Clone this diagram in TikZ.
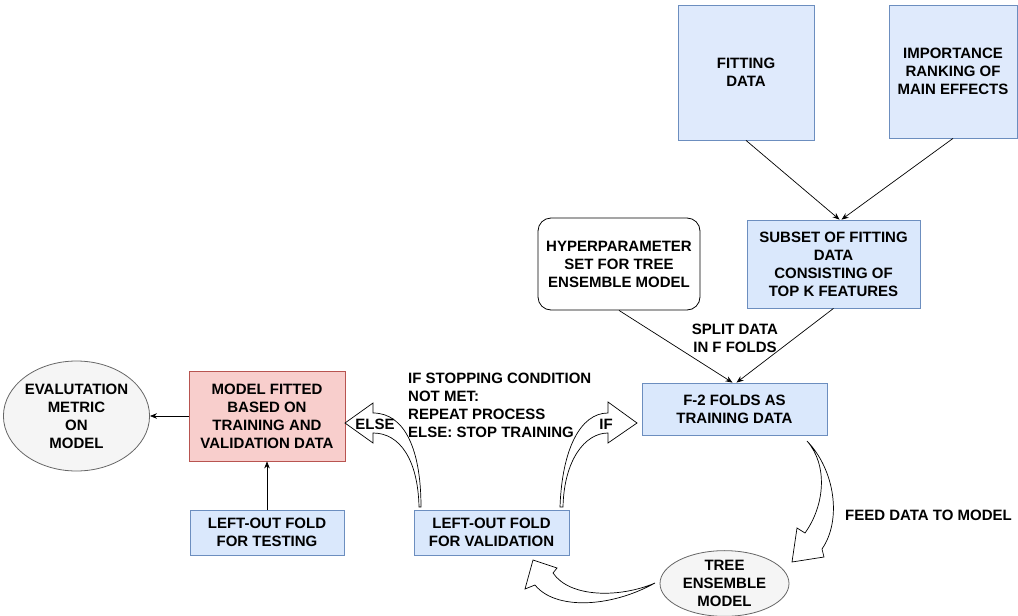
\documentclass[tikz,border=0pt]{standalone}
\usepackage{fontspec}
\setmainfont{Liberation Sans}
\usetikzlibrary{arrows.meta,shapes.geometric}
\definecolor{bfill}{HTML}{DAE8FC}
\definecolor{bfilltop}{HTML}{DFEAFC}
\definecolor{bline}{HTML}{6C8EBF}
\definecolor{rfill}{HTML}{F8CECC}
\definecolor{rline}{HTML}{B85450}
\definecolor{gfill}{HTML}{F5F5F5}
\definecolor{gline}{HTML}{666666}
\begin{document}
\begin{tikzpicture}[x=1pt,y=-1pt,
  every node/.style={font=\fontsize{15}{18}\selectfont\bfseries, inner sep=0pt, align=center},
  bluebox/.style={draw=bline, fill=bfill, line width=0.8pt, rectangle},
  topbox/.style={draw=bline, fill=bfilltop, line width=0.8pt, rectangle},
  redbox/.style={draw=rline, fill=rfill, line width=0.8pt, rectangle},
  greyell/.style={draw=gline, fill=gfill, line width=0.8pt, ellipse},
  roundbox/.style={draw=black, fill=white, line width=0.8pt, rectangle, rounded corners=13pt},
  arr/.style={draw=black, line width=0.7pt, -{Stealth[length=7pt,width=5.5pt]}},
  blockarr/.style={draw=black, fill=white, line width=0.7pt, line join=miter},
  lbl/.style={text=black}
]
\useasboundingbox (0,0) rectangle (1018,616);

% top boxes
\node[topbox, minimum width=136pt, minimum height=135pt] (fit) at (746,72.5) {FITTING\\DATA};
\node[topbox, minimum width=128pt, minimum height=133pt] (imp) at (953,71.5) {IMPORTANCE\\RANKING OF\\MAIN EFFECTS};
\node[bluebox, minimum width=173pt, minimum height=88pt] (sub) at (833.5,264) {SUBSET OF FITTING\\DATA\\CONSISTING OF\\TOP K FEATURES};
\node[roundbox, minimum width=162pt, minimum height=92pt] (hyp) at (619,264) {HYPERPARAMETER\\SET FOR TREE\\ENSEMBLE MODEL};
\node[bluebox, minimum width=185pt, minimum height=52pt] (f2) at (734.5,409) {F-2 FOLDS AS\\TRAINING DATA};
\node[redbox, minimum width=156pt, minimum height=90pt] (model) at (267,416) {MODEL FITTED\\BASED ON\\TRAINING AND\\VALIDATION DATA};
\node[greyell, minimum width=133pt, minimum height=110pt] (eval) at (76.5,416) {EVALUTATION\\METRIC\\ON\\MODEL};
\node[bluebox, minimum width=154pt, minimum height=45pt] (test) at (267,532.5) {LEFT-OUT FOLD\\FOR TESTING};
\node[bluebox, minimum width=155pt, minimum height=45pt] (val) at (491.5,532.5) {LEFT-OUT FOLD\\FOR VALIDATION};
\node[greyell, minimum width=129pt, minimum height=63pt] (tree) at (724.5,583.5) {TREE\\ENSEMBLE\\MODEL};

% thin connectors
\draw[arr] (fit.south) -- ([xshift=6pt]sub.north);
\draw[arr] (imp.south) -- ([xshift=8pt]sub.north);
\draw[arr] (hyp.south) -- ([xshift=-2pt]f2.north);
\draw[arr] (sub.south) -- ([xshift=2pt]f2.north);
\draw[arr] (model.west) -- (eval.east);
\draw[arr] (test.north) -- (model.south);

% labels
\node[lbl] (split) at (735,338) {SPLIT DATA\\IN F FOLDS};
\node[lbl, anchor=west] (feed) at (845,515) {FEED DATA TO MODEL};
\node[lbl, anchor=north west, align=left] (cond) at (408,373) {IF STOPPING CONDITION\\NOT MET:\\REPEAT PROCESS\\ELSE: STOP TRAINING};

% block arrow: validation -> model (ELSE)
\draw[blockarr] (421,507) .. controls (421,450) and (405,413) .. (373,413)
  -- (373,403) -- (345,423) -- (373,443) -- (373,433)
  .. controls (400,433) and (418,460) .. (419,507) -- cycle;
\node[lbl] (else) at (375,424) {ELSE};

% block arrow: validation -> F-2 (IF)
\draw[blockarr] (560,507) .. controls (562,450) and (580,413) .. (608,413)
  -- (608,402) -- (637,423) -- (608,443) -- (608,433)
  .. controls (585,433) and (564,460) .. (563,507) -- cycle;
\node[lbl] (if) at (606,424) {IF};

% block arrow: F-2 -> tree
\draw[blockarr] (807,441) .. controls (835,470) and (842,520) .. (822,549)
  -- (824,557) -- (792,562) -- (797,528) -- (805,533)
  .. controls (825,505) and (828,465) .. (807,441) -- cycle;

% block arrow: tree -> validation
\draw[blockarr] (655,583) .. controls (620,598) and (570,598) .. (553,573)
  -- (557,568) -- (533,560) -- (525,589) -- (535,585)
  .. controls (555,610) and (610,608) .. (655,583) -- cycle;
\end{tikzpicture}
\end{document}
